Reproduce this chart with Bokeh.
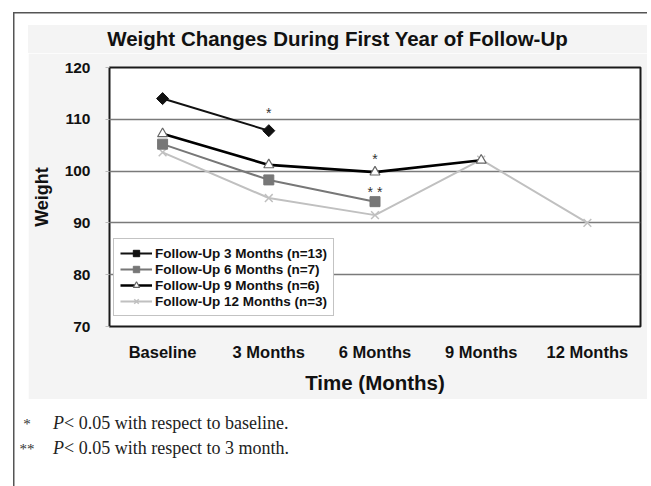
from bokeh.plotting import figure
from bokeh.layouts import column
from bokeh.models import FactorRange, Range1d, FixedTicker, ColumnDataSource, Div
from bokeh.embed import file_html
from bokeh.resources import INLINE
from bokeh.core.properties import value

# ---------------- data ----------------
categories = ["Baseline", "3 Months", "6 Months", "9 Months", "12 Months"]
fu3 = [114.0, 107.8]
fu6 = [105.2, 98.3, 94.1]
fu9 = [107.2, 101.2, 99.8, 102.1]
fu12 = [103.6, 94.8, 91.5, 102.2, 90.0]
series_names = [
    "Follow-Up 3 Months (n=13)",
    "Follow-Up 6 Months (n=7)",
    "Follow-Up 9 Months (n=6)",
    "Follow-Up 12 Months (n=3)",
]
y_ticks = [70, 80, 90, 100, 110, 120]
title_text = "Weight Changes During First Year of Follow-Up"
x_title = "Time (Months)"
y_title = "Weight"
note_marks = ["*", "**"]
note_texts = ["< 0.05 with respect to baseline.", "< 0.05 with respect to 3 month."]

FONT = "Liberation Sans"
SERIF = "Liberation Serif"
PANEL = "#f4f4f4"

# gray panel spans page 28..647 x 25..399; frame page 106..640 x 67..326
PW = 619
TITLE_H = 28
title_div = Div(
    text=title_text, width=PW, height=TITLE_H, margin=(25 - 12, 0, 0, 28 - 13),
    styles={"background-color": PANEL, "font-family": f"'{FONT}'", "font-weight": "bold",
            "font-size": "20.5px", "color": "#111111", "text-align": "center",
            "line-height": "28px", "white-space": "nowrap"},
)

top_border = 67 - 25 - TITLE_H
p = figure(
    x_range=FactorRange(factors=categories), y_range=Range1d(70, 120),
    width=PW, height=399 - 25 - TITLE_H, output_backend="svg", toolbar_location=None,
    min_border_left=106 - 28, min_border_right=647 - 640, min_border_top=top_border,
    min_border_bottom=399 - 326,
)
p.margin = (0, 0, 0, 28 - 13)
p.border_fill_color = PANEL
p.background_fill_color = "white"
p.outline_line_color = "#1a1a1a"
p.outline_line_width = 2

# axes
p.yaxis.ticker = FixedTicker(ticks=y_ticks)
p.yaxis.axis_line_color = None
p.yaxis.major_tick_out = 4
p.yaxis.major_tick_in = 0
p.yaxis.major_tick_line_color = "#bbbbbb"
p.yaxis.minor_tick_line_color = None
p.yaxis.major_label_standoff = 15
p.yaxis.major_label_text_font = FONT
p.yaxis.major_label_text_font_style = "bold"
p.yaxis.major_label_text_font_size = "15.5px"
p.yaxis.major_label_text_color = "#111111"
p.yaxis.axis_label = y_title
p.yaxis.axis_label_text_font = FONT
p.yaxis.axis_label_text_font_style = "bold"
p.yaxis.axis_label_text_font_size = "18px"
p.yaxis.axis_label_text_color = "#111111"
p.yaxis.axis_label_standoff = 10

p.xaxis.axis_line_color = None
p.xaxis.major_tick_line_color = None
p.xaxis.major_tick_out = 0
p.xaxis.major_tick_in = 0
p.xaxis.major_label_standoff = 16
p.xaxis.major_label_text_font = FONT
p.xaxis.major_label_text_font_style = "bold"
p.xaxis.major_label_text_font_size = "16.5px"
p.xaxis.major_label_text_color = "#111111"
p.xaxis.axis_label = x_title
p.xaxis.axis_label_text_font = FONT
p.xaxis.axis_label_text_font_style = "bold"
p.xaxis.axis_label_text_font_size = "20.5px"
p.xaxis.axis_label_text_color = "#111111"
p.xaxis.axis_label_standoff = 7

p.xgrid.grid_line_color = None
p.ygrid.grid_line_color = "#7a7a7a"
p.ygrid.grid_line_width = 1.3

# series
s3 = ColumnDataSource(dict(x=categories[:len(fu3)], y=fu3))
s6 = ColumnDataSource(dict(x=categories[:len(fu6)], y=fu6))
s9 = ColumnDataSource(dict(x=categories[:len(fu9)], y=fu9))
s12 = ColumnDataSource(dict(x=categories[:len(fu12)], y=fu12))

p.line("x", "y", source=s12, line_color="#c0c0c0", line_width=2, legend_label=series_names[3])
p.scatter("x", "y", source=s12, marker="x", size=11, line_color="#c0c0c0", line_width=1.5,
          legend_label=series_names[3])

p.line("x", "y", source=s6, line_color="#777777", line_width=2, legend_label=series_names[1])
p.scatter("x", "y", source=s6, marker="square", size=10, fill_color="#777777",
          line_color="#777777", legend_label=series_names[1])

p.line("x", "y", source=s9, line_color="#000000", line_width=2.6, legend_label=series_names[2])
p.scatter("x", "y", source=s9, marker="triangle", size=10, fill_color="white",
          line_color="#666666", line_width=1.2, legend_label=series_names[2])

p.line("x", "y", source=s3, line_color="#111111", line_width=2, legend_label=series_names[0])
p.scatter("x", "y", source=s3, marker="square", angle=0.785398, size=8.5, fill_color="#111111",
          line_color="#111111", legend_label=series_names[0])

# significance markers attached to data points
star = ColumnDataSource(dict(x=[categories[1], categories[2]], y=[fu3[1], fu9[2]],
                             t=["*", "*"], off=[-18, -13]))
dstar = ColumnDataSource(dict(x=[categories[2]], y=[fu6[2]], t=["* *"], off=[-10]))
for src in (star, dstar):
    p.text("x", "y", text="t", source=src, y_offset="off", text_align="center",
           text_baseline="middle", text_font=value(FONT), text_font_size="14px",
           text_color="#333333")

# legend in series order
items = p.legend.items
order = {n: i for i, n in enumerate(series_names)}
p.legend.items = sorted(items, key=lambda it: order[it.label.value])
p.legend.location = (4, 10)
p.legend.border_line_color = "#888888"
p.legend.border_line_width = 1
p.legend.background_fill_color = "white"
p.legend.background_fill_alpha = 1
p.legend.label_text_font = FONT
p.legend.label_text_font_style = "bold"
p.legend.label_text_font_size = "13.5px"
p.legend.label_text_color = "#111111"
p.legend.label_height = 16
p.legend.glyph_height = 16
p.legend.glyph_width = 32
p.legend.spacing = 0
p.legend.padding = 6
p.legend.margin = 0
p.legend.label_standoff = 3

# footnotes
rows = "".join(
    f'<div style="height:25px;line-height:25px;white-space:nowrap">'
    f'<span style="display:inline-block;width:20px;text-align:center;margin-right:16px;'
    f'font-size:15px;color:#333">{m}</span><i>P</i>{t.replace("<", "&lt;")}</div>'
    for m, t in zip(note_marks, note_texts)
)
notes = Div(
    text=f'<div style="font-family:\'{SERIF}\';font-size:18px;color:#222">{rows}</div>',
    width=600, height=78, margin=(12, 0, 0, 17 - 13),
)

root = column(title_div, p, notes, margin=(12, 0, 0, 13),
              styles={"box-shadow": "inset 1.5px 1.5px 0 0 #555555", "background": "white"})

open("out.html", "w").write(file_html(root, INLINE))
